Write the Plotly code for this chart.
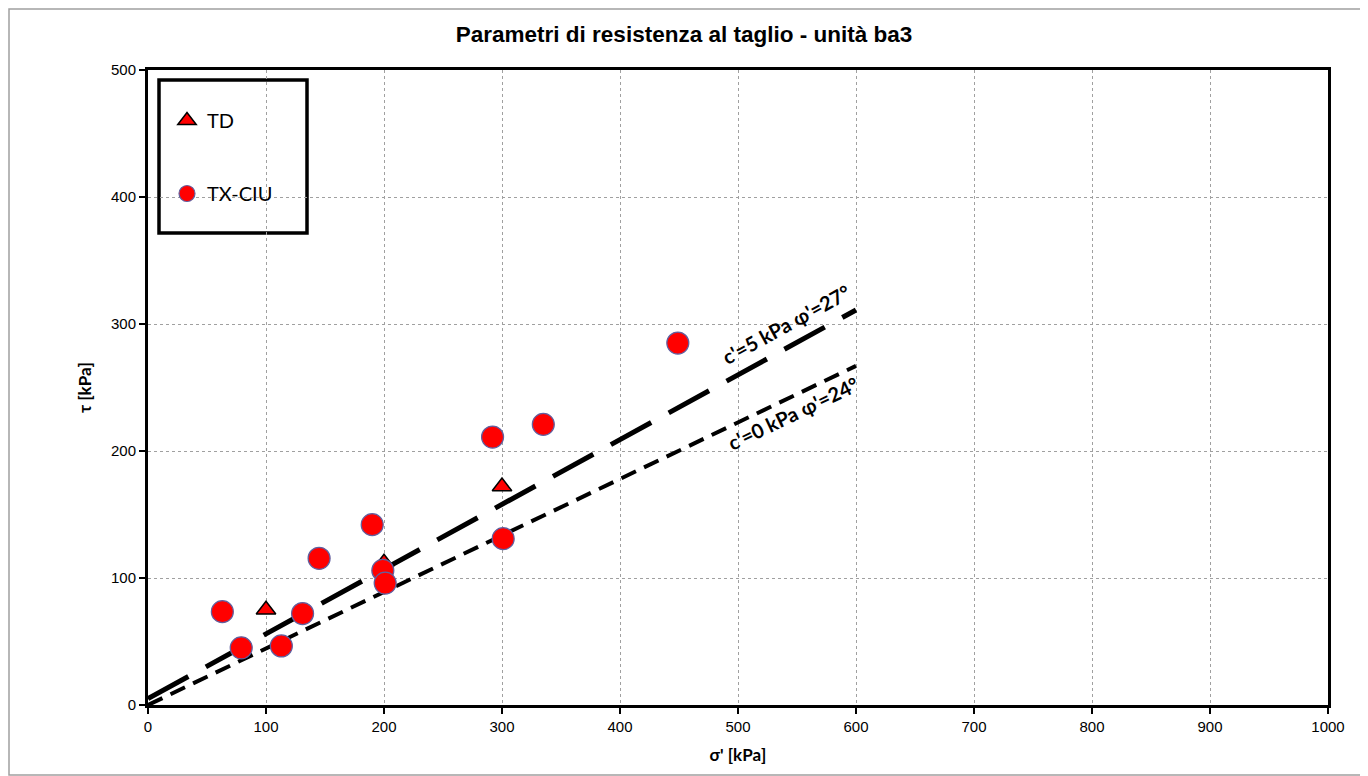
import plotly.graph_objects as go

# --- data ---
td_sigma = [100, 200, 300]
td_tau = [75, 112, 172]

ciu_sigma = [63, 79, 113, 131, 145, 190, 199, 201, 292, 301, 335, 449]
ciu_tau = [73.5, 45, 46.5, 72, 115.5, 142, 106, 96, 211, 131, 221, 285]

env1_sigma = [0, 600]
env1_tau = [5, 311]
env1_label = "c'=5 kPa φ'=27°"

env2_sigma = [0, 600]
env2_tau = [0, 267]
env2_label = "c'=0 kPa φ'=24°"

x_ticks = list(range(0, 1001, 100))
y_ticks = list(range(0, 501, 100))

fig = go.Figure()

fig.add_trace(go.Scatter(x=env1_sigma, y=env1_tau, mode="lines",
                         line=dict(color="black", width=5, dash="46px,20px"),
                         showlegend=False, hoverinfo="skip"))
fig.add_trace(go.Scatter(x=env2_sigma, y=env2_tau, mode="lines",
                         line=dict(color="black", width=4, dash="16px,9px"),
                         showlegend=False, hoverinfo="skip"))

fig.add_trace(go.Scatter(x=td_sigma, y=td_tau, mode="markers", name="TD",
                         legendgroup="td",
                         marker=dict(symbol="triangle-up", size=17, color="#FF0000",
                                     line=dict(color="black", width=1.5))))
fig.add_trace(go.Scatter(x=ciu_sigma, y=ciu_tau, mode="markers", name="TX-CIU",
                         legendgroup="ciu",
                         marker=dict(symbol="circle", size=22, color="#FF0000",
                                     line=dict(color="#6060A0", width=1.2))))

fig.add_annotation(x=541, y=300, text=env1_label, showarrow=False, textangle=-28.7,
                   font=dict(family="Lato", size=20, color="black", weight="bold"))
fig.add_annotation(x=547, y=230, text=env2_label, showarrow=False, textangle=-25.6,
                   font=dict(family="Lato", size=20, color="black", weight="bold"))

# page is offset by the default 8px body margin
OFF = 8
W, H = 1360, 768
L = 148 - OFF
T = 70 - OFF
R = W - (1328 - OFF)
B = H - (705 - OFF)
pw, ph = W - L - R, H - T - B


def px(xpage):
    return (xpage - OFF - L) / pw


def py(ypage):
    return (H - B - (ypage - OFF)) / ph


shapes = [
    # outer chart border
    dict(type="rect", xref="paper", yref="paper", x0=px(9), x1=px(1366), y0=py(775), y1=py(9),
         line=dict(color="#A0A0A0", width=1.5), layer="below"),
    # legend border
    dict(type="rect", xref="paper", yref="paper", x0=px(159), x1=px(307), y0=py(233), y1=py(80),
         line=dict(color="black", width=3.5), fillcolor="white", layer="below"),
]

fig.update_layout(
    width=W, height=H,
    margin=dict(l=L, r=R, t=T, b=B),
    paper_bgcolor="white", plot_bgcolor="white",
    title=dict(text="<b>Parametri di resistenza al taglio - unità ba3</b>",
               x=(684 - OFF) / W, xanchor="center", xref="container",
               y=1 - (34 - OFF) / H, yanchor="middle",
               font=dict(family="Liberation Sans", size=22.5, color="black")),
    font=dict(family="Liberation Sans", size=15, color="black"),
    shapes=shapes,
    legend=dict(x=px(167), y=py(101), xanchor="left", yanchor="top",
                bgcolor="rgba(0,0,0,0)", borderwidth=0,
                font=dict(family="Lato", size=20, color="black"),
                tracegroupgap=44, itemsizing="trace"),
    showlegend=True,
)

fig.update_xaxes(range=[0, 1000], tickvals=x_ticks, ticks="outside", ticklen=6, tickwidth=2,
                 tickcolor="black", showline=True, linecolor="black", linewidth=3, mirror=True,
                 showgrid=True, gridcolor="#A0A0A0", griddash="dot", gridwidth=1,
                 zeroline=False, tickfont=dict(size=15),
                 title=dict(text="<b>σ' [kPa]</b>",
                            font=dict(family="Lato", size=17, weight="bold"), standoff=16))
fig.update_yaxes(range=[0, 500], tickvals=y_ticks, ticks="outside", ticklen=6, tickwidth=2,
                 tickcolor="black", showline=True, linecolor="black", linewidth=3, mirror=True,
                 showgrid=True, gridcolor="#A0A0A0", griddash="dot", gridwidth=1,
                 zeroline=False, tickfont=dict(size=15),
                 title=dict(text="<b>τ [kPa]</b>",
                            font=dict(family="Lato", size=17, weight="bold"), standoff=16))

fig.write_html("out.html")
